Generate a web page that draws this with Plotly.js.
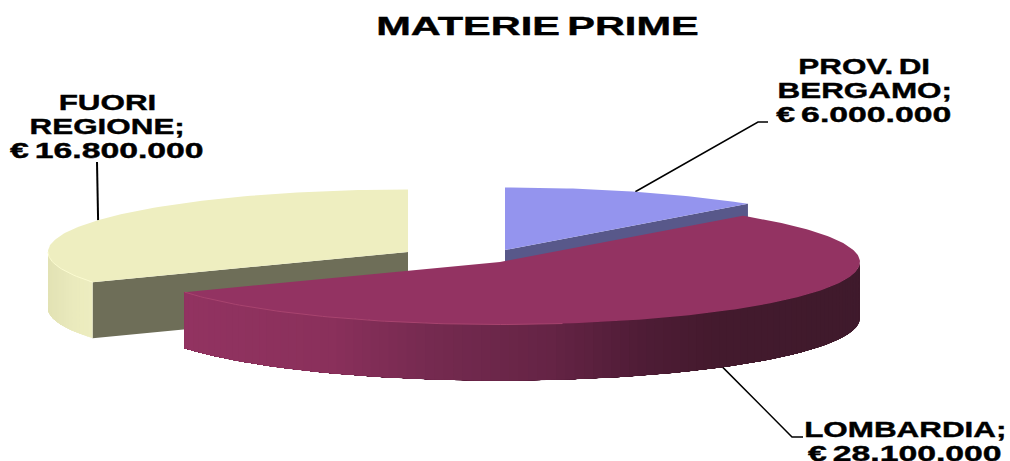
<!DOCTYPE html>
<html>
<head>
<meta charset="utf-8">
<script src="https://cdn.plot.ly/plotly-3.0.1.min.js"></script>
<style>html,body{margin:0;padding:0;background:#fff}#chart{width:1010px;height:461px}</style>
</head>
<body>
<div id="chart"></div>
<script>
// Values in euro and the way each category name wraps in its label
const chartTitle = 'MATERIE PRIME';
const categories = ['PROV. DI BERGAMO', 'LOMBARDIA', 'FUORI REGIONE'];
const values = [6000000, 28100000, 16800000];
const labelLines = [['PROV. DI', 'BERGAMO;'], ['LOMBARDIA;'], ['FUORI', 'REGIONE;']];

// Slice colours
const topColors = ['#9494ee', '#933362', '#eeeec0'];
const cutColors = ['#58588a', '#5c2040', '#6e6e58'];
const rimColors = [null, '#a8446f', '#fbfbd0'];

// Which radial cut of each slice faces the viewer
const visibleCuts = [['end'], [], ['start']];

// Outer wall shading as [x, [r, g, b]] stops
const wallStops = [
  [[0, [88, 88, 138]], [1010, [88, 88, 138]]],
  [[183, [146, 51, 97]], [330, [138, 48, 91]], [430, [117, 42, 80]], [550, [101, 36, 69]],
   [640, [79, 28, 54]], [720, [67, 26, 45]], [860, [63, 26, 44]]],
  [[48, [226, 226, 180]], [70, [233, 233, 188]], [93, [238, 238, 192]]]
];

// Projection of the tilted disc, in axis units
const RX = 360, RY = 62.5, DEPTH = 56;
const centers = [[505, 250], [500, 262], [408, 252]];
const labelCenters = [[864, 67], [905, 430], [107, 103]];
const LINE_GAP = 24;
const leaderEnds = [[[758, 122], [768, 122]], [[792, 437], [803, 437]], [[97, 162]]];

// Horizontal widening of the lettering, by kind of text
const STRETCH = {title: 1.66, name: 1.46, amount: 1.57};

const total = values.reduce((a, b) => a + b, 0);
const sweeps = values.map(v => v / total * 360);
const starts = sweeps.map((_, i) => sweeps.slice(0, i).reduce((a, b) => a + b, 0));

const rad = d => d * Math.PI / 180;
const rimPoint = (i, deg, drop = 0) => [
  centers[i][0] + RX * Math.sin(rad(deg)),
  centers[i][1] - RY * Math.cos(rad(deg)) + drop
];
const arc = (i, a, b, drop = 0) => {
  const n = Math.max(2, Math.ceil(Math.abs(b - a)));
  return Array.from({length: n + 1}, (_, k) => rimPoint(i, a + (b - a) * k / n, drop));
};
const shade = (i, x) => {
  const s = wallStops[i];
  if (x <= s[0][0]) return s[0][1];
  for (let k = 1; k < s.length; k++) {
    if (x <= s[k][0]) {
      const t = (x - s[k - 1][0]) / (s[k][0] - s[k - 1][0]);
      return s[k - 1][1].map((c, j) => c + (s[k][1][j] - c) * t);
    }
  }
  return s[s.length - 1][1];
};
const rgb = c => `rgb(${c.map(Math.round).join(',')})`;
const poly = (pts, color) => ({
  type: 'scatter', mode: 'lines', fill: 'toself', fillcolor: color,
  x: pts.map(p => p[0]), y: pts.map(p => p[1]),
  line: {width: 0}, hoverinfo: 'skip', showlegend: false
});
const stroke = (pts, color, width) => ({
  type: 'scatter', mode: 'lines',
  x: pts.map(p => p[0]), y: pts.map(p => p[1]),
  line: {color: color, width: width}, hoverinfo: 'skip', showlegend: false
});

const traces = [];

// Leader lines start on the rim at the middle of each slice
values.forEach((_, i) => {
  const mid = starts[i] + sweeps[i] / 2;
  const onFront = Math.cos(rad(mid)) < 0;
  const start = rimPoint(i, mid, onFront ? DEPTH : 0);
  traces.push(stroke([start, ...leaderEnds[i]], '#000000', i === 2 ? 2 : 1.5));
});

// One slice: visible cut face, outer wall as overlapping shaded strips, then the top
function addSlice(i) {
  const a = starts[i], b = a + sweeps[i], c = centers[i];
  visibleCuts[i].forEach(side => {
    const p = rimPoint(i, side === 'start' ? a : b);
    traces.push(poly([c, p, [p[0], p[1] + DEPTH], [c[0], c[1] + DEPTH]], cutColors[i]));
  });
  const wallFrom = Math.max(a, 90), wallTo = Math.min(b, 270);
  // Each strip runs on to the far end of the wall, and the next one paints over it
  const strips = [];
  for (let d = wallFrom; d < wallTo; d += 1.5) strips.push(d);
  const forward = rimPoint(i, wallFrom)[0] > rimPoint(i, wallTo)[0];
  (forward ? strips : strips.reverse()).forEach(d => {
    const from = forward ? d : wallFrom;
    const to = forward ? wallTo : d + 1.5;
    const x = rimPoint(i, d + 0.75)[0];
    traces.push(poly([...arc(i, from, Math.min(to, wallTo)), ...arc(i, Math.min(to, wallTo), from, DEPTH)], rgb(shade(i, x))));
  });
  traces.push(poly([c, ...arc(i, a, b)], topColors[i]));
  if (rimColors[i]) {
    traces.push(stroke(arc(i, Math.max(wallFrom, 170), wallTo), rimColors[i], 1));
  }
}
[0, 2, 1].forEach(addSlice);

// Category lines followed by the euro amount, one annotation per line
const euro = v => '€ ' + String(v).replace(/\B(?=(\d{3})+$)/g, '.');
const textStyle = size => ({family: '"Liberation Sans", Arial, sans-serif', size: size, color: '#000000', weight: 700});
const lineKinds = ['title'];
const annotations = [{
  text: '<b>' + chartTitle + '</b>', x: 537, y: 26, xref: 'x', yref: 'y',
  showarrow: false, font: textStyle(25), xanchor: 'center', yanchor: 'middle'
}];
categories.forEach((_, i) => {
  const lines = [...labelLines[i], euro(values[i])];
  lines.forEach((line, k) => {
    lineKinds.push(k === lines.length - 1 ? 'amount' : 'name');
    annotations.push({
      text: '<b>' + line + '</b>', x: labelCenters[i][0], y: labelCenters[i][1] + k * LINE_GAP,
      xref: 'x', yref: 'y', showarrow: false, font: textStyle(21.5),
      xanchor: 'center', yanchor: 'middle'
    });
  });
});

const hidden = range => ({range: range, autorange: false, visible: false, fixedrange: true});
const layout = {
  width: 1010, height: 461, margin: {l: 0, r: 0, t: 0, b: 0},
  paper_bgcolor: '#ffffff', plot_bgcolor: '#ffffff', showlegend: false,
  xaxis: hidden([0, 1010]), yaxis: hidden([461, 0]), annotations: annotations
};

// The lettering is set wide and heavy, so each line is extended to its target length
Plotly.newPlot('chart', traces, layout, {displayModeBar: false, responsive: false}).then(gd => {
  gd.querySelectorAll('.annotation-text').forEach((t, n) => {
    t.style.wordSpacing = '-0.1em';
    t.style.stroke = '#000000';
    t.style.strokeWidth = '0.4px';
    t.setAttribute('textLength', t.getComputedTextLength() * STRETCH[lineKinds[n]]);
    t.setAttribute('lengthAdjust', 'spacingAndGlyphs');
  });
});
</script>
</body>
</html>
